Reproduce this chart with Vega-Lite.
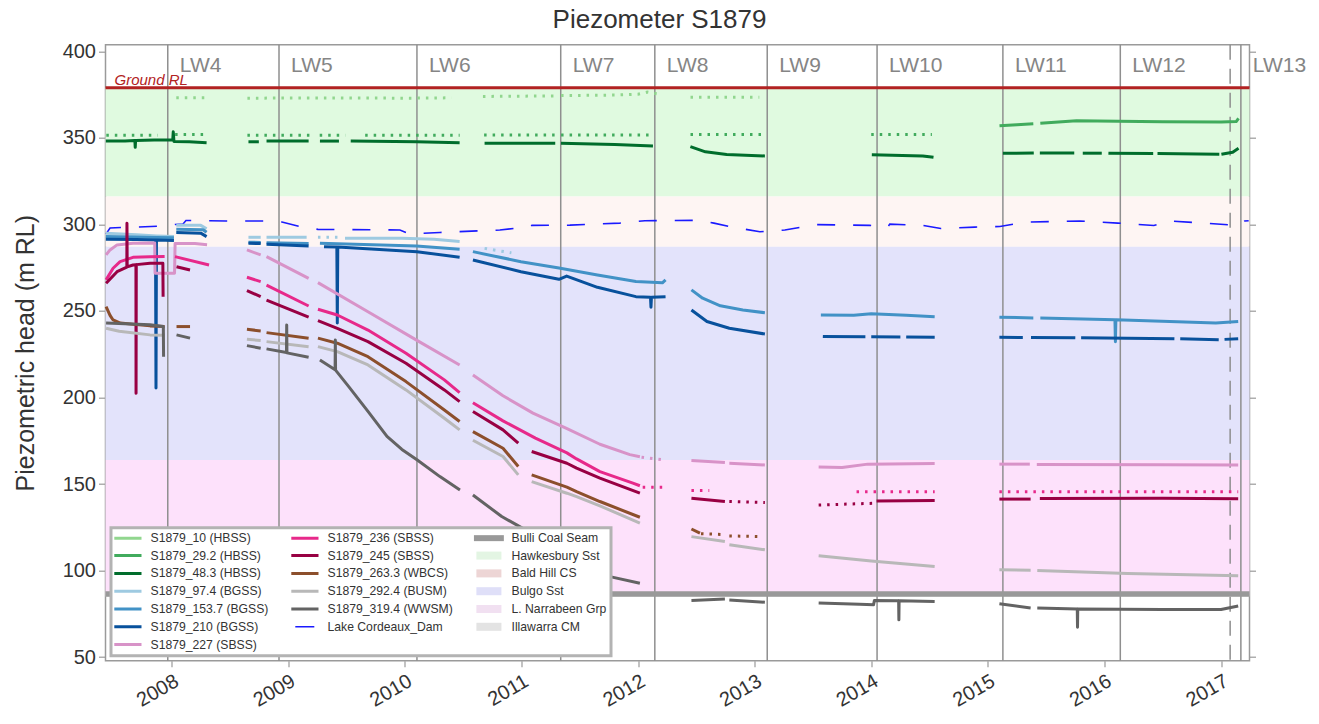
{
"$schema": "https://vega.github.io/schema/vega-lite/v6.json",
"width": 1144,
"height": 616,
"autosize": {"type": "none"},
"padding": {"left": 105.5, "top": 44.7, "right": 69.5, "bottom": 63.3},
"background": "white",
"title": {"text": "Piezometer S1879", "fontSize": 26, "font": "Liberation Sans", "fontWeight": "normal", "color": "#333333", "anchor": "middle", "dx": -18, "offset": 8},
"datasets": {
"bands": [
{"band": "Hawkesbury Sst", "top": 379, "bottom": 316.1},
{"band": "Bald Hill CS", "top": 316.1, "bottom": 287.2},
{"band": "Bulgo Sst", "top": 287.2, "bottom": 163.9},
{"band": "L. Narrabeen Grp", "top": 163.9, "bottom": 86.4},
{"band": "Illawarra CM", "top": 86.4, "bottom": 85.0}
],
"panels": [
{"panel": "LW4", "start": 2007.967},
{"panel": "LW5", "start": 2008.921},
{"panel": "LW6", "start": 2010.104},
{"panel": "LW7", "start": 2011.337},
{"panel": "LW8", "start": 2012.144},
{"panel": "LW9", "start": 2013.108},
{"panel": "LW10", "start": 2014.05},
{"panel": "LW11", "start": 2015.129},
{"panel": "LW12", "start": 2016.136},
{"panel": "LW13", "start": 2017.17}
],
"marker": [{"year": 2017.078}],
"ground": [{"label": "Ground RL", "head": 379}],
"seam": [{"name": "Bulli Coal Seam", "head": 86.4}],
"lake": [
{"year": 2007.438, "head": 294.6}, {"year": 2007.472, "head": 298.0}, {"year": 2007.901, "head": 299.0}, {"year": 2008.029, "head": 300.0},
{"year": 2008.098, "head": 300.3}, {"year": 2008.123, "head": 302.3}, {"year": 2008.466, "head": 302.0}, {"year": 2008.801, "head": 302.0},
{"year": 2008.946, "head": 301.4}, {"year": 2009.101, "head": 298.8}, {"year": 2009.255, "head": 297.2}, {"year": 2009.958, "head": 296.8},
{"year": 2010.044, "head": 294.5}, {"year": 2010.301, "head": 295.4}, {"year": 2010.815, "head": 296.8}, {"year": 2011.073, "head": 298.7},
{"year": 2011.09, "head": 299.5}, {"year": 2011.416, "head": 299.6}, {"year": 2011.844, "head": 300.8}, {"year": 2012.059, "head": 302.2},
{"year": 2012.531, "head": 302.4}, {"year": 2012.651, "head": 300.8}, {"year": 2012.805, "head": 298.5}, {"year": 2013.045, "head": 295.8},
{"year": 2013.259, "head": 296.8}, {"year": 2013.525, "head": 299.9}, {"year": 2013.988, "head": 299.5}, {"year": 2014.142, "head": 298.5},
{"year": 2014.159, "head": 300.2}, {"year": 2014.442, "head": 299.5}, {"year": 2014.597, "head": 297.7}, {"year": 2014.889, "head": 298.5},
{"year": 2015.103, "head": 298.8}, {"year": 2015.326, "head": 301.4}, {"year": 2015.789, "head": 302.0}, {"year": 2016.115, "head": 300.8},
{"year": 2016.424, "head": 299.4}, {"year": 2016.553, "head": 302.0}, {"year": 2016.86, "head": 300.8}, {"year": 2017.16, "head": 299.4},
{"year": 2017.203, "head": 302.0}, {"year": 2017.237, "head": 302.2}
],
"piezo": [
{"series": "S1879_10 (HBSS)", "seg": 1, "reading": "intermittent", "year": 2008.04, "head": 373.3},
{"series": "S1879_10 (HBSS)", "seg": 1, "reading": "intermittent", "year": 2008.30, "head": 373.3},
{"series": "S1879_10 (HBSS)", "seg": 2, "reading": "intermittent", "year": 2008.65, "head": 373.0},
{"series": "S1879_10 (HBSS)", "seg": 2, "reading": "intermittent", "year": 2009.30, "head": 373.1},
{"series": "S1879_10 (HBSS)", "seg": 2, "reading": "intermittent", "year": 2010.05, "head": 373.0},
{"series": "S1879_10 (HBSS)", "seg": 2, "reading": "intermittent", "year": 2010.40, "head": 373.2},
{"series": "S1879_10 (HBSS)", "seg": 3, "reading": "intermittent", "year": 2010.67, "head": 374.0},
{"series": "S1879_10 (HBSS)", "seg": 3, "reading": "intermittent", "year": 2011.29, "head": 374.3},
{"series": "S1879_10 (HBSS)", "seg": 4, "reading": "intermittent", "year": 2011.34, "head": 374.5},
{"series": "S1879_10 (HBSS)", "seg": 4, "reading": "intermittent", "year": 2011.80, "head": 374.8},
{"series": "S1879_10 (HBSS)", "seg": 4, "reading": "intermittent", "year": 2012.00, "head": 375.3},
{"series": "S1879_10 (HBSS)", "seg": 4, "reading": "intermittent", "year": 2012.08, "head": 376.5},
{"series": "S1879_10 (HBSS)", "seg": 4, "reading": "intermittent", "year": 2012.12, "head": 376.0},
{"series": "S1879_10 (HBSS)", "seg": 4, "reading": "intermittent", "year": 2012.21, "head": 375.0},
{"series": "S1879_10 (HBSS)", "seg": 5, "reading": "intermittent", "year": 2012.45, "head": 373.5},
{"series": "S1879_10 (HBSS)", "seg": 5, "reading": "intermittent", "year": 2013.04, "head": 373.5},

{"series": "S1879_29.2 (HBSS)", "seg": 1, "reading": "intermittent", "year": 2007.44, "head": 351.5},
{"series": "S1879_29.2 (HBSS)", "seg": 1, "reading": "intermittent", "year": 2007.88, "head": 351.5},
{"series": "S1879_29.2 (HBSS)", "seg": 2, "reading": "intermittent", "year": 2008.03, "head": 352.0},
{"series": "S1879_29.2 (HBSS)", "seg": 2, "reading": "intermittent", "year": 2008.30, "head": 352.0},
{"series": "S1879_29.2 (HBSS)", "seg": 3, "reading": "intermittent", "year": 2008.65, "head": 351.5},
{"series": "S1879_29.2 (HBSS)", "seg": 3, "reading": "intermittent", "year": 2009.19, "head": 351.5},
{"series": "S1879_29.2 (HBSS)", "seg": 4, "reading": "intermittent", "year": 2009.27, "head": 351.5},
{"series": "S1879_29.2 (HBSS)", "seg": 4, "reading": "intermittent", "year": 2009.49, "head": 351.5},
{"series": "S1879_29.2 (HBSS)", "seg": 5, "reading": "intermittent", "year": 2009.66, "head": 351.5},
{"series": "S1879_29.2 (HBSS)", "seg": 5, "reading": "intermittent", "year": 2010.47, "head": 351.5},
{"series": "S1879_29.2 (HBSS)", "seg": 6, "reading": "intermittent", "year": 2010.68, "head": 351.7},
{"series": "S1879_29.2 (HBSS)", "seg": 6, "reading": "intermittent", "year": 2011.29, "head": 351.7},
{"series": "S1879_29.2 (HBSS)", "seg": 7, "reading": "intermittent", "year": 2011.34, "head": 351.7},
{"series": "S1879_29.2 (HBSS)", "seg": 7, "reading": "intermittent", "year": 2012.13, "head": 351.7},
{"series": "S1879_29.2 (HBSS)", "seg": 8, "reading": "intermittent", "year": 2012.45, "head": 352.0},
{"series": "S1879_29.2 (HBSS)", "seg": 8, "reading": "intermittent", "year": 2013.07, "head": 352.0},
{"series": "S1879_29.2 (HBSS)", "seg": 9, "reading": "intermittent", "year": 2014.00, "head": 352.0},
{"series": "S1879_29.2 (HBSS)", "seg": 9, "reading": "intermittent", "year": 2014.52, "head": 352.0},
{"series": "S1879_29.2 (HBSS)", "seg": 10, "reading": "continuous", "year": 2015.10, "head": 357.0},
{"series": "S1879_29.2 (HBSS)", "seg": 10, "reading": "continuous", "year": 2015.25, "head": 357.7},
{"series": "S1879_29.2 (HBSS)", "seg": 10, "reading": "continuous", "year": 2015.39, "head": 358.2},
{"series": "S1879_29.2 (HBSS)", "seg": 11, "reading": "continuous", "year": 2015.45, "head": 358.5},
{"series": "S1879_29.2 (HBSS)", "seg": 11, "reading": "continuous", "year": 2015.76, "head": 360.0},
{"series": "S1879_29.2 (HBSS)", "seg": 11, "reading": "continuous", "year": 2016.12, "head": 359.6},
{"series": "S1879_29.2 (HBSS)", "seg": 11, "reading": "continuous", "year": 2016.50, "head": 359.4},
{"series": "S1879_29.2 (HBSS)", "seg": 11, "reading": "continuous", "year": 2017.00, "head": 359.2},
{"series": "S1879_29.2 (HBSS)", "seg": 11, "reading": "continuous", "year": 2017.13, "head": 359.5},
{"series": "S1879_29.2 (HBSS)", "seg": 11, "reading": "continuous", "year": 2017.15, "head": 361.3},

{"series": "S1879_48.3 (HBSS)", "seg": 1, "reading": "continuous", "year": 2007.436, "head": 348.2},
{"series": "S1879_48.3 (HBSS)", "seg": 1, "reading": "continuous", "year": 2007.60, "head": 348.2},
{"series": "S1879_48.3 (HBSS)", "seg": 1, "reading": "continuous", "year": 2007.685, "head": 348.5},
{"series": "S1879_48.3 (HBSS)", "seg": 1, "reading": "continuous", "year": 2007.688, "head": 344.6},
{"series": "S1879_48.3 (HBSS)", "seg": 1, "reading": "continuous", "year": 2007.691, "head": 348.5},
{"series": "S1879_48.3 (HBSS)", "seg": 1, "reading": "continuous", "year": 2007.85, "head": 348.8},
{"series": "S1879_48.3 (HBSS)", "seg": 1, "reading": "continuous", "year": 2008.010, "head": 349.0},
{"series": "S1879_48.3 (HBSS)", "seg": 1, "reading": "continuous", "year": 2008.014, "head": 353.6},
{"series": "S1879_48.3 (HBSS)", "seg": 1, "reading": "continuous", "year": 2008.020, "head": 348.0},
{"series": "S1879_48.3 (HBSS)", "seg": 1, "reading": "continuous", "year": 2008.15, "head": 347.8},
{"series": "S1879_48.3 (HBSS)", "seg": 1, "reading": "continuous", "year": 2008.30, "head": 347.3},
{"series": "S1879_48.3 (HBSS)", "seg": 2, "reading": "continuous", "year": 2008.659, "head": 347.8},
{"series": "S1879_48.3 (HBSS)", "seg": 2, "reading": "continuous", "year": 2008.748, "head": 347.8},
{"series": "S1879_48.3 (HBSS)", "seg": 3, "reading": "continuous", "year": 2008.814, "head": 348.2},
{"series": "S1879_48.3 (HBSS)", "seg": 3, "reading": "continuous", "year": 2009.175, "head": 348.2},
{"series": "S1879_48.3 (HBSS)", "seg": 4, "reading": "continuous", "year": 2009.272, "head": 348.2},
{"series": "S1879_48.3 (HBSS)", "seg": 4, "reading": "continuous", "year": 2009.435, "head": 348.2},
{"series": "S1879_48.3 (HBSS)", "seg": 5, "reading": "continuous", "year": 2009.536, "head": 348.2},
{"series": "S1879_48.3 (HBSS)", "seg": 5, "reading": "continuous", "year": 2010.10, "head": 347.8},
{"series": "S1879_48.3 (HBSS)", "seg": 5, "reading": "continuous", "year": 2010.47, "head": 347.3},
{"series": "S1879_48.3 (HBSS)", "seg": 6, "reading": "continuous", "year": 2010.684, "head": 346.9},
{"series": "S1879_48.3 (HBSS)", "seg": 6, "reading": "continuous", "year": 2011.29, "head": 346.9},
{"series": "S1879_48.3 (HBSS)", "seg": 7, "reading": "continuous", "year": 2011.339, "head": 346.9},
{"series": "S1879_48.3 (HBSS)", "seg": 7, "reading": "continuous", "year": 2011.80, "head": 346.2},
{"series": "S1879_48.3 (HBSS)", "seg": 7, "reading": "continuous", "year": 2012.128, "head": 345.3},
{"series": "S1879_48.3 (HBSS)", "seg": 8, "reading": "continuous", "year": 2012.449, "head": 345.0},
{"series": "S1879_48.3 (HBSS)", "seg": 8, "reading": "continuous", "year": 2012.578, "head": 342.0},
{"series": "S1879_48.3 (HBSS)", "seg": 8, "reading": "continuous", "year": 2012.760, "head": 340.5},
{"series": "S1879_48.3 (HBSS)", "seg": 8, "reading": "continuous", "year": 2013.088, "head": 339.6},
{"series": "S1879_48.3 (HBSS)", "seg": 9, "reading": "continuous", "year": 2014.005, "head": 340.3},
{"series": "S1879_48.3 (HBSS)", "seg": 9, "reading": "continuous", "year": 2014.442, "head": 339.6},
{"series": "S1879_48.3 (HBSS)", "seg": 9, "reading": "continuous", "year": 2014.534, "head": 338.8},
{"series": "S1879_48.3 (HBSS)", "seg": 10, "reading": "continuous", "year": 2015.129, "head": 341.1},
{"series": "S1879_48.3 (HBSS)", "seg": 10, "reading": "continuous", "year": 2015.394, "head": 341.3},
{"series": "S1879_48.3 (HBSS)", "seg": 11, "reading": "continuous", "year": 2015.446, "head": 341.3},
{"series": "S1879_48.3 (HBSS)", "seg": 11, "reading": "continuous", "year": 2015.741, "head": 341.3},
{"series": "S1879_48.3 (HBSS)", "seg": 12, "reading": "continuous", "year": 2015.814, "head": 341.2},
{"series": "S1879_48.3 (HBSS)", "seg": 12, "reading": "continuous", "year": 2015.977, "head": 341.2},
{"series": "S1879_48.3 (HBSS)", "seg": 13, "reading": "continuous", "year": 2016.034, "head": 341.1},
{"series": "S1879_48.3 (HBSS)", "seg": 13, "reading": "continuous", "year": 2016.418, "head": 341.0},
{"series": "S1879_48.3 (HBSS)", "seg": 14, "reading": "continuous", "year": 2016.455, "head": 341.0},
{"series": "S1879_48.3 (HBSS)", "seg": 14, "reading": "continuous", "year": 2016.985, "head": 340.6},
{"series": "S1879_48.3 (HBSS)", "seg": 15, "reading": "continuous", "year": 2017.003, "head": 340.6},
{"series": "S1879_48.3 (HBSS)", "seg": 15, "reading": "continuous", "year": 2017.10, "head": 341.8},
{"series": "S1879_48.3 (HBSS)", "seg": 15, "reading": "continuous", "year": 2017.15, "head": 344.0},

{"series": "S1879_97.4 (BGSS)", "seg": 1, "reading": "continuous", "year": 2007.436, "head": 295.0},
{"series": "S1879_97.4 (BGSS)", "seg": 1, "reading": "continuous", "year": 2007.70, "head": 294.0},
{"series": "S1879_97.4 (BGSS)", "seg": 1, "reading": "continuous", "year": 2007.87, "head": 293.4},
{"series": "S1879_97.4 (BGSS)", "seg": 1, "reading": "continuous", "year": 2008.02, "head": 293.0},
{"series": "S1879_97.4 (BGSS)", "seg": 2, "reading": "continuous", "year": 2008.04, "head": 299.5},
{"series": "S1879_97.4 (BGSS)", "seg": 2, "reading": "continuous", "year": 2008.25, "head": 299.5},
{"series": "S1879_97.4 (BGSS)", "seg": 2, "reading": "continuous", "year": 2008.30, "head": 297.5},
{"series": "S1879_97.4 (BGSS)", "seg": 3, "reading": "continuous", "year": 2008.659, "head": 292.6},
{"series": "S1879_97.4 (BGSS)", "seg": 3, "reading": "continuous", "year": 2008.764, "head": 292.6},
{"series": "S1879_97.4 (BGSS)", "seg": 4, "reading": "continuous", "year": 2008.814, "head": 292.6},
{"series": "S1879_97.4 (BGSS)", "seg": 4, "reading": "continuous", "year": 2009.158, "head": 292.6},
{"series": "S1879_97.4 (BGSS)", "seg": 5, "reading": "intermittent", "year": 2009.255, "head": 292.6},
{"series": "S1879_97.4 (BGSS)", "seg": 5, "reading": "intermittent", "year": 2009.452, "head": 292.6},
{"series": "S1879_97.4 (BGSS)", "seg": 6, "reading": "continuous", "year": 2009.487, "head": 292.0},
{"series": "S1879_97.4 (BGSS)", "seg": 6, "reading": "continuous", "year": 2009.975, "head": 292.0},
{"series": "S1879_97.4 (BGSS)", "seg": 6, "reading": "continuous", "year": 2010.25, "head": 291.4},
{"series": "S1879_97.4 (BGSS)", "seg": 6, "reading": "continuous", "year": 2010.47, "head": 290.2},
{"series": "S1879_97.4 (BGSS)", "seg": 7, "reading": "intermittent", "year": 2010.684, "head": 286.2},
{"series": "S1879_97.4 (BGSS)", "seg": 7, "reading": "intermittent", "year": 2010.914, "head": 283.6},

{"series": "S1879_153.7 (BGSS)", "seg": 1, "reading": "continuous", "year": 2007.436, "head": 293.0},
{"series": "S1879_153.7 (BGSS)", "seg": 1, "reading": "continuous", "year": 2007.87, "head": 292.5},
{"series": "S1879_153.7 (BGSS)", "seg": 1, "reading": "continuous", "year": 2008.02, "head": 292.3},
{"series": "S1879_153.7 (BGSS)", "seg": 2, "reading": "continuous", "year": 2008.04, "head": 297.3},
{"series": "S1879_153.7 (BGSS)", "seg": 2, "reading": "continuous", "year": 2008.27, "head": 297.0},
{"series": "S1879_153.7 (BGSS)", "seg": 2, "reading": "continuous", "year": 2008.30, "head": 295.5},
{"series": "S1879_153.7 (BGSS)", "seg": 3, "reading": "continuous", "year": 2008.659, "head": 289.8},
{"series": "S1879_153.7 (BGSS)", "seg": 3, "reading": "continuous", "year": 2008.764, "head": 289.6},
{"series": "S1879_153.7 (BGSS)", "seg": 4, "reading": "continuous", "year": 2008.814, "head": 289.5},
{"series": "S1879_153.7 (BGSS)", "seg": 4, "reading": "continuous", "year": 2009.175, "head": 289.0},
{"series": "S1879_153.7 (BGSS)", "seg": 5, "reading": "continuous", "year": 2009.272, "head": 289.2},
{"series": "S1879_153.7 (BGSS)", "seg": 5, "reading": "continuous", "year": 2010.10, "head": 287.6},
{"series": "S1879_153.7 (BGSS)", "seg": 5, "reading": "continuous", "year": 2010.47, "head": 285.7},
{"series": "S1879_153.7 (BGSS)", "seg": 6, "reading": "continuous", "year": 2010.584, "head": 284.3},
{"series": "S1879_153.7 (BGSS)", "seg": 6, "reading": "continuous", "year": 2010.996, "head": 278.5},
{"series": "S1879_153.7 (BGSS)", "seg": 6, "reading": "continuous", "year": 2011.322, "head": 274.9},
{"series": "S1879_153.7 (BGSS)", "seg": 6, "reading": "continuous", "year": 2011.652, "head": 270.8},
{"series": "S1879_153.7 (BGSS)", "seg": 6, "reading": "continuous", "year": 2011.982, "head": 267.0},
{"series": "S1879_153.7 (BGSS)", "seg": 6, "reading": "continuous", "year": 2012.209, "head": 266.3},
{"series": "S1879_153.7 (BGSS)", "seg": 6, "reading": "continuous", "year": 2012.236, "head": 268.0},
{"series": "S1879_153.7 (BGSS)", "seg": 7, "reading": "continuous", "year": 2012.458, "head": 262.2},
{"series": "S1879_153.7 (BGSS)", "seg": 7, "reading": "continuous", "year": 2012.554, "head": 257.4},
{"series": "S1879_153.7 (BGSS)", "seg": 7, "reading": "continuous", "year": 2012.706, "head": 253.0},
{"series": "S1879_153.7 (BGSS)", "seg": 7, "reading": "continuous", "year": 2012.899, "head": 250.6},
{"series": "S1879_153.7 (BGSS)", "seg": 7, "reading": "continuous", "year": 2013.088, "head": 249.0},
{"series": "S1879_153.7 (BGSS)", "seg": 8, "reading": "continuous", "year": 2013.568, "head": 247.7},
{"series": "S1879_153.7 (BGSS)", "seg": 8, "reading": "continuous", "year": 2013.85, "head": 247.5},
{"series": "S1879_153.7 (BGSS)", "seg": 8, "reading": "continuous", "year": 2014.00, "head": 248.4},
{"series": "S1879_153.7 (BGSS)", "seg": 8, "reading": "continuous", "year": 2014.30, "head": 247.6},
{"series": "S1879_153.7 (BGSS)", "seg": 8, "reading": "continuous", "year": 2014.544, "head": 246.7},
{"series": "S1879_153.7 (BGSS)", "seg": 9, "reading": "continuous", "year": 2015.099, "head": 246.4},
{"series": "S1879_153.7 (BGSS)", "seg": 9, "reading": "continuous", "year": 2015.39, "head": 246.0},
{"series": "S1879_153.7 (BGSS)", "seg": 10, "reading": "continuous", "year": 2015.45, "head": 245.9},
{"series": "S1879_153.7 (BGSS)", "seg": 10, "reading": "continuous", "year": 2016.090, "head": 244.9},
{"series": "S1879_153.7 (BGSS)", "seg": 10, "reading": "continuous", "year": 2016.094, "head": 232.3},
{"series": "S1879_153.7 (BGSS)", "seg": 10, "reading": "continuous", "year": 2016.098, "head": 244.9},
{"series": "S1879_153.7 (BGSS)", "seg": 10, "reading": "continuous", "year": 2016.955, "head": 243.0},
{"series": "S1879_153.7 (BGSS)", "seg": 10, "reading": "continuous", "year": 2017.147, "head": 243.9},

{"series": "S1879_210 (BGSS)", "seg": 1, "reading": "continuous", "year": 2007.436, "head": 291.5},
{"series": "S1879_210 (BGSS)", "seg": 1, "reading": "continuous", "year": 2007.70, "head": 291.3},
{"series": "S1879_210 (BGSS)", "seg": 1, "reading": "continuous", "year": 2007.862, "head": 291.0},
{"series": "S1879_210 (BGSS)", "seg": 1, "reading": "continuous", "year": 2007.866, "head": 205.5},
{"series": "S1879_210 (BGSS)", "seg": 1, "reading": "continuous", "year": 2007.870, "head": 291.0},
{"series": "S1879_210 (BGSS)", "seg": 1, "reading": "continuous", "year": 2008.02, "head": 290.8},
{"series": "S1879_210 (BGSS)", "seg": 2, "reading": "continuous", "year": 2008.04, "head": 295.3},
{"series": "S1879_210 (BGSS)", "seg": 2, "reading": "continuous", "year": 2008.25, "head": 295.0},
{"series": "S1879_210 (BGSS)", "seg": 2, "reading": "continuous", "year": 2008.30, "head": 293.0},
{"series": "S1879_210 (BGSS)", "seg": 3, "reading": "continuous", "year": 2008.659, "head": 289.1},
{"series": "S1879_210 (BGSS)", "seg": 3, "reading": "continuous", "year": 2008.764, "head": 289.0},
{"series": "S1879_210 (BGSS)", "seg": 4, "reading": "continuous", "year": 2008.814, "head": 288.6},
{"series": "S1879_210 (BGSS)", "seg": 4, "reading": "continuous", "year": 2009.175, "head": 287.6},
{"series": "S1879_210 (BGSS)", "seg": 5, "reading": "continuous", "year": 2009.307, "head": 287.2},
{"series": "S1879_210 (BGSS)", "seg": 5, "reading": "continuous", "year": 2009.417, "head": 287.0},
{"series": "S1879_210 (BGSS)", "seg": 5, "reading": "continuous", "year": 2009.421, "head": 243.0},
{"series": "S1879_210 (BGSS)", "seg": 5, "reading": "continuous", "year": 2009.425, "head": 287.0},
{"series": "S1879_210 (BGSS)", "seg": 5, "reading": "continuous", "year": 2010.104, "head": 284.3},
{"series": "S1879_210 (BGSS)", "seg": 5, "reading": "continuous", "year": 2010.47, "head": 281.0},
{"series": "S1879_210 (BGSS)", "seg": 6, "reading": "continuous", "year": 2010.584, "head": 279.5},
{"series": "S1879_210 (BGSS)", "seg": 6, "reading": "continuous", "year": 2010.996, "head": 272.7},
{"series": "S1879_210 (BGSS)", "seg": 6, "reading": "continuous", "year": 2011.322, "head": 268.3},
{"series": "S1879_210 (BGSS)", "seg": 6, "reading": "continuous", "year": 2011.388, "head": 270.2},
{"series": "S1879_210 (BGSS)", "seg": 6, "reading": "continuous", "year": 2011.652, "head": 263.7},
{"series": "S1879_210 (BGSS)", "seg": 6, "reading": "continuous", "year": 2011.982, "head": 258.3},
{"series": "S1879_210 (BGSS)", "seg": 6, "reading": "continuous", "year": 2012.107, "head": 258.0},
{"series": "S1879_210 (BGSS)", "seg": 6, "reading": "continuous", "year": 2012.111, "head": 252.2},
{"series": "S1879_210 (BGSS)", "seg": 6, "reading": "continuous", "year": 2012.115, "head": 258.0},
{"series": "S1879_210 (BGSS)", "seg": 6, "reading": "continuous", "year": 2012.236, "head": 258.3},
{"series": "S1879_210 (BGSS)", "seg": 7, "reading": "continuous", "year": 2012.458, "head": 250.6},
{"series": "S1879_210 (BGSS)", "seg": 7, "reading": "continuous", "year": 2012.591, "head": 243.9},
{"series": "S1879_210 (BGSS)", "seg": 7, "reading": "continuous", "year": 2012.783, "head": 240.0},
{"series": "S1879_210 (BGSS)", "seg": 7, "reading": "continuous", "year": 2013.088, "head": 236.7},
{"series": "S1879_210 (BGSS)", "seg": 8, "reading": "continuous", "year": 2013.585, "head": 235.2},
{"series": "S1879_210 (BGSS)", "seg": 8, "reading": "continuous", "year": 2013.95, "head": 235.1},
{"series": "S1879_210 (BGSS)", "seg": 9, "reading": "continuous", "year": 2014.00, "head": 235.1},
{"series": "S1879_210 (BGSS)", "seg": 9, "reading": "continuous", "year": 2014.25, "head": 235.0},
{"series": "S1879_210 (BGSS)", "seg": 10, "reading": "continuous", "year": 2014.30, "head": 235.0},
{"series": "S1879_210 (BGSS)", "seg": 10, "reading": "continuous", "year": 2014.544, "head": 234.9},
{"series": "S1879_210 (BGSS)", "seg": 11, "reading": "continuous", "year": 2015.099, "head": 234.8},
{"series": "S1879_210 (BGSS)", "seg": 11, "reading": "continuous", "year": 2015.30, "head": 234.7},
{"series": "S1879_210 (BGSS)", "seg": 12, "reading": "continuous", "year": 2015.37, "head": 234.7},
{"series": "S1879_210 (BGSS)", "seg": 12, "reading": "continuous", "year": 2015.75, "head": 234.5},
{"series": "S1879_210 (BGSS)", "seg": 13, "reading": "continuous", "year": 2015.80, "head": 234.5},
{"series": "S1879_210 (BGSS)", "seg": 13, "reading": "continuous", "year": 2016.60, "head": 234.0},
{"series": "S1879_210 (BGSS)", "seg": 14, "reading": "continuous", "year": 2016.65, "head": 234.0},
{"series": "S1879_210 (BGSS)", "seg": 14, "reading": "continuous", "year": 2016.98, "head": 233.4},
{"series": "S1879_210 (BGSS)", "seg": 15, "reading": "continuous", "year": 2017.03, "head": 233.6},
{"series": "S1879_210 (BGSS)", "seg": 15, "reading": "continuous", "year": 2017.147, "head": 234.0},

{"series": "S1879_227 (SBSS)", "seg": 1, "reading": "continuous", "year": 2007.438, "head": 282.4},
{"series": "S1879_227 (SBSS)", "seg": 1, "reading": "continuous", "year": 2007.472, "head": 285.3},
{"series": "S1879_227 (SBSS)", "seg": 1, "reading": "continuous", "year": 2007.532, "head": 288.2},
{"series": "S1879_227 (SBSS)", "seg": 1, "reading": "continuous", "year": 2007.669, "head": 289.1},
{"series": "S1879_227 (SBSS)", "seg": 1, "reading": "continuous", "year": 2007.855, "head": 289.3},
{"series": "S1879_227 (SBSS)", "seg": 1, "reading": "continuous", "year": 2007.858, "head": 271.8},
{"series": "S1879_227 (SBSS)", "seg": 1, "reading": "continuous", "year": 2008.025, "head": 271.8},
{"series": "S1879_227 (SBSS)", "seg": 1, "reading": "continuous", "year": 2008.030, "head": 289.0},
{"series": "S1879_227 (SBSS)", "seg": 1, "reading": "continuous", "year": 2008.20, "head": 289.0},
{"series": "S1879_227 (SBSS)", "seg": 1, "reading": "continuous", "year": 2008.304, "head": 288.3},
{"series": "S1879_227 (SBSS)", "seg": 2, "reading": "continuous", "year": 2008.646, "head": 285.3},
{"series": "S1879_227 (SBSS)", "seg": 2, "reading": "continuous", "year": 2008.764, "head": 282.4},
{"series": "S1879_227 (SBSS)", "seg": 3, "reading": "continuous", "year": 2008.814, "head": 281.4},
{"series": "S1879_227 (SBSS)", "seg": 3, "reading": "continuous", "year": 2009.175, "head": 268.9},
{"series": "S1879_227 (SBSS)", "seg": 4, "reading": "continuous", "year": 2009.255, "head": 266.4},
{"series": "S1879_227 (SBSS)", "seg": 4, "reading": "continuous", "year": 2009.684, "head": 249.6},
{"series": "S1879_227 (SBSS)", "seg": 4, "reading": "continuous", "year": 2010.104, "head": 233.0},
{"series": "S1879_227 (SBSS)", "seg": 4, "reading": "continuous", "year": 2010.47, "head": 218.8},
{"series": "S1879_227 (SBSS)", "seg": 5, "reading": "continuous", "year": 2010.584, "head": 213.0},
{"series": "S1879_227 (SBSS)", "seg": 5, "reading": "continuous", "year": 2010.842, "head": 201.0},
{"series": "S1879_227 (SBSS)", "seg": 5, "reading": "continuous", "year": 2011.099, "head": 191.0},
{"series": "S1879_227 (SBSS)", "seg": 5, "reading": "continuous", "year": 2011.391, "head": 182.0},
{"series": "S1879_227 (SBSS)", "seg": 5, "reading": "continuous", "year": 2011.673, "head": 173.0},
{"series": "S1879_227 (SBSS)", "seg": 5, "reading": "continuous", "year": 2011.930, "head": 167.0},
{"series": "S1879_227 (SBSS)", "seg": 5, "reading": "continuous", "year": 2012.016, "head": 165.8},
{"series": "S1879_227 (SBSS)", "seg": 6, "reading": "intermittent", "year": 2012.03, "head": 165.5},
{"series": "S1879_227 (SBSS)", "seg": 6, "reading": "intermittent", "year": 2012.21, "head": 164.0},
{"series": "S1879_227 (SBSS)", "seg": 7, "reading": "continuous", "year": 2012.458, "head": 163.6},
{"series": "S1879_227 (SBSS)", "seg": 7, "reading": "continuous", "year": 2012.745, "head": 162.4},
{"series": "S1879_227 (SBSS)", "seg": 8, "reading": "continuous", "year": 2012.783, "head": 162.0},
{"series": "S1879_227 (SBSS)", "seg": 8, "reading": "continuous", "year": 2013.088, "head": 161.0},
{"series": "S1879_227 (SBSS)", "seg": 9, "reading": "continuous", "year": 2013.549, "head": 159.8},
{"series": "S1879_227 (SBSS)", "seg": 9, "reading": "continuous", "year": 2013.75, "head": 159.5},
{"series": "S1879_227 (SBSS)", "seg": 9, "reading": "continuous", "year": 2013.97, "head": 161.5},
{"series": "S1879_227 (SBSS)", "seg": 9, "reading": "continuous", "year": 2014.544, "head": 161.8},
{"series": "S1879_227 (SBSS)", "seg": 10, "reading": "continuous", "year": 2015.099, "head": 161.5},
{"series": "S1879_227 (SBSS)", "seg": 10, "reading": "continuous", "year": 2015.36, "head": 161.5},
{"series": "S1879_227 (SBSS)", "seg": 11, "reading": "continuous", "year": 2015.42, "head": 161.3},
{"series": "S1879_227 (SBSS)", "seg": 11, "reading": "continuous", "year": 2016.50, "head": 161.2},
{"series": "S1879_227 (SBSS)", "seg": 11, "reading": "continuous", "year": 2017.147, "head": 161.0},

{"series": "S1879_236 (SBSS)", "seg": 1, "reading": "continuous", "year": 2007.438, "head": 268.0},
{"series": "S1879_236 (SBSS)", "seg": 1, "reading": "continuous", "year": 2007.498, "head": 274.7},
{"series": "S1879_236 (SBSS)", "seg": 1, "reading": "continuous", "year": 2007.558, "head": 278.5},
{"series": "S1879_236 (SBSS)", "seg": 1, "reading": "continuous", "year": 2007.669, "head": 281.0},
{"series": "S1879_236 (SBSS)", "seg": 1, "reading": "continuous", "year": 2007.815, "head": 281.4},
{"series": "S1879_236 (SBSS)", "seg": 1, "reading": "continuous", "year": 2007.94, "head": 281.5},
{"series": "S1879_236 (SBSS)", "seg": 2, "reading": "continuous", "year": 2008.029, "head": 281.4},
{"series": "S1879_236 (SBSS)", "seg": 2, "reading": "continuous", "year": 2008.321, "head": 276.6},
{"series": "S1879_236 (SBSS)", "seg": 3, "reading": "continuous", "year": 2008.646, "head": 269.5},
{"series": "S1879_236 (SBSS)", "seg": 3, "reading": "continuous", "year": 2008.764, "head": 267.0},
{"series": "S1879_236 (SBSS)", "seg": 4, "reading": "continuous", "year": 2008.814, "head": 265.0},
{"series": "S1879_236 (SBSS)", "seg": 4, "reading": "continuous", "year": 2009.175, "head": 252.9},
{"series": "S1879_236 (SBSS)", "seg": 5, "reading": "continuous", "year": 2009.255, "head": 251.0},
{"series": "S1879_236 (SBSS)", "seg": 5, "reading": "continuous", "year": 2009.421, "head": 247.7},
{"series": "S1879_236 (SBSS)", "seg": 5, "reading": "continuous", "year": 2009.684, "head": 239.0},
{"series": "S1879_236 (SBSS)", "seg": 5, "reading": "continuous", "year": 2010.010, "head": 225.6},
{"series": "S1879_236 (SBSS)", "seg": 5, "reading": "continuous", "year": 2010.339, "head": 210.2},
{"series": "S1879_236 (SBSS)", "seg": 5, "reading": "continuous", "year": 2010.470, "head": 202.8},
{"series": "S1879_236 (SBSS)", "seg": 6, "reading": "continuous", "year": 2010.584, "head": 197.0},
{"series": "S1879_236 (SBSS)", "seg": 6, "reading": "continuous", "year": 2010.842, "head": 186.5},
{"series": "S1879_236 (SBSS)", "seg": 6, "reading": "continuous", "year": 2011.120, "head": 176.5},
{"series": "S1879_236 (SBSS)", "seg": 6, "reading": "continuous", "year": 2011.390, "head": 168.0},
{"series": "S1879_236 (SBSS)", "seg": 6, "reading": "continuous", "year": 2011.473, "head": 164.5},
{"series": "S1879_236 (SBSS)", "seg": 6, "reading": "continuous", "year": 2011.673, "head": 157.2},
{"series": "S1879_236 (SBSS)", "seg": 6, "reading": "continuous", "year": 2011.956, "head": 150.5},
{"series": "S1879_236 (SBSS)", "seg": 6, "reading": "continuous", "year": 2012.016, "head": 149.0},
{"series": "S1879_236 (SBSS)", "seg": 7, "reading": "intermittent", "year": 2012.04, "head": 148.2},
{"series": "S1879_236 (SBSS)", "seg": 7, "reading": "intermittent", "year": 2012.21, "head": 148.2},
{"series": "S1879_236 (SBSS)", "seg": 8, "reading": "intermittent", "year": 2012.458, "head": 146.2},
{"series": "S1879_236 (SBSS)", "seg": 8, "reading": "intermittent", "year": 2012.611, "head": 146.2},
{"series": "S1879_236 (SBSS)", "seg": 9, "reading": "intermittent", "year": 2013.874, "head": 145.6},
{"series": "S1879_236 (SBSS)", "seg": 9, "reading": "intermittent", "year": 2014.544, "head": 145.6},
{"series": "S1879_236 (SBSS)", "seg": 10, "reading": "intermittent", "year": 2015.099, "head": 145.6},
{"series": "S1879_236 (SBSS)", "seg": 10, "reading": "intermittent", "year": 2017.147, "head": 145.6},

{"series": "S1879_245 (SBSS)", "seg": 1, "reading": "continuous", "year": 2007.438, "head": 266.0},
{"series": "S1879_245 (SBSS)", "seg": 1, "reading": "continuous", "year": 2007.532, "head": 272.7},
{"series": "S1879_245 (SBSS)", "seg": 1, "reading": "continuous", "year": 2007.616, "head": 275.3},
{"series": "S1879_245 (SBSS)", "seg": 1, "reading": "continuous", "year": 2007.617, "head": 300.7},
{"series": "S1879_245 (SBSS)", "seg": 1, "reading": "continuous", "year": 2007.619, "head": 275.5},
{"series": "S1879_245 (SBSS)", "seg": 1, "reading": "continuous", "year": 2007.669, "head": 276.6},
{"series": "S1879_245 (SBSS)", "seg": 1, "reading": "continuous", "year": 2007.694, "head": 276.8},
{"series": "S1879_245 (SBSS)", "seg": 1, "reading": "continuous", "year": 2007.695, "head": 202.5},
{"series": "S1879_245 (SBSS)", "seg": 1, "reading": "continuous", "year": 2007.697, "head": 276.8},
{"series": "S1879_245 (SBSS)", "seg": 1, "reading": "continuous", "year": 2007.815, "head": 277.6},
{"series": "S1879_245 (SBSS)", "seg": 1, "reading": "continuous", "year": 2007.925, "head": 277.6},
{"series": "S1879_245 (SBSS)", "seg": 1, "reading": "continuous", "year": 2007.927, "head": 258.3},
{"series": "S1879_245 (SBSS)", "seg": 2, "reading": "continuous", "year": 2008.042, "head": 275.6},
{"series": "S1879_245 (SBSS)", "seg": 2, "reading": "continuous", "year": 2008.158, "head": 273.7},
{"series": "S1879_245 (SBSS)", "seg": 3, "reading": "continuous", "year": 2008.646, "head": 261.8},
{"series": "S1879_245 (SBSS)", "seg": 3, "reading": "continuous", "year": 2008.764, "head": 258.3},
{"series": "S1879_245 (SBSS)", "seg": 4, "reading": "continuous", "year": 2008.814, "head": 256.3},
{"series": "S1879_245 (SBSS)", "seg": 4, "reading": "continuous", "year": 2009.175, "head": 246.4},
{"series": "S1879_245 (SBSS)", "seg": 5, "reading": "continuous", "year": 2009.255, "head": 244.4},
{"series": "S1879_245 (SBSS)", "seg": 5, "reading": "continuous", "year": 2009.421, "head": 240.0},
{"series": "S1879_245 (SBSS)", "seg": 5, "reading": "continuous", "year": 2009.684, "head": 232.3},
{"series": "S1879_245 (SBSS)", "seg": 5, "reading": "continuous", "year": 2010.010, "head": 219.8},
{"series": "S1879_245 (SBSS)", "seg": 5, "reading": "continuous", "year": 2010.339, "head": 204.4},
{"series": "S1879_245 (SBSS)", "seg": 5, "reading": "continuous", "year": 2010.470, "head": 197.6},
{"series": "S1879_245 (SBSS)", "seg": 6, "reading": "continuous", "year": 2010.584, "head": 191.9},
{"series": "S1879_245 (SBSS)", "seg": 6, "reading": "continuous", "year": 2010.842, "head": 181.3},
{"series": "S1879_245 (SBSS)", "seg": 6, "reading": "continuous", "year": 2010.973, "head": 173.6},
{"series": "S1879_245 (SBSS)", "seg": 7, "reading": "continuous", "year": 2011.088, "head": 168.8},
{"series": "S1879_245 (SBSS)", "seg": 7, "reading": "continuous", "year": 2011.390, "head": 162.0},
{"series": "S1879_245 (SBSS)", "seg": 7, "reading": "continuous", "year": 2011.473, "head": 159.2},
{"series": "S1879_245 (SBSS)", "seg": 7, "reading": "continuous", "year": 2011.673, "head": 153.4},
{"series": "S1879_245 (SBSS)", "seg": 7, "reading": "continuous", "year": 2012.016, "head": 144.7},
{"series": "S1879_245 (SBSS)", "seg": 8, "reading": "continuous", "year": 2012.458, "head": 141.8},
{"series": "S1879_245 (SBSS)", "seg": 8, "reading": "continuous", "year": 2012.745, "head": 139.9},
{"series": "S1879_245 (SBSS)", "seg": 9, "reading": "intermittent", "year": 2012.783, "head": 139.9},
{"series": "S1879_245 (SBSS)", "seg": 9, "reading": "intermittent", "year": 2013.088, "head": 139.3},
{"series": "S1879_245 (SBSS)", "seg": 10, "reading": "intermittent", "year": 2013.549, "head": 137.9},
{"series": "S1879_245 (SBSS)", "seg": 10, "reading": "intermittent", "year": 2014.040, "head": 138.9},
{"series": "S1879_245 (SBSS)", "seg": 11, "reading": "continuous", "year": 2014.046, "head": 140.2},
{"series": "S1879_245 (SBSS)", "seg": 11, "reading": "continuous", "year": 2014.544, "head": 140.5},
{"series": "S1879_245 (SBSS)", "seg": 12, "reading": "continuous", "year": 2015.099, "head": 141.3},
{"series": "S1879_245 (SBSS)", "seg": 12, "reading": "continuous", "year": 2015.367, "head": 141.3},
{"series": "S1879_245 (SBSS)", "seg": 13, "reading": "continuous", "year": 2015.446, "head": 141.6},
{"series": "S1879_245 (SBSS)", "seg": 13, "reading": "continuous", "year": 2016.500, "head": 141.8},
{"series": "S1879_245 (SBSS)", "seg": 13, "reading": "continuous", "year": 2017.147, "head": 141.5},

{"series": "S1879_263.3 (WBCS)", "seg": 1, "reading": "continuous", "year": 2007.438, "head": 252.5},
{"series": "S1879_263.3 (WBCS)", "seg": 1, "reading": "continuous", "year": 2007.472, "head": 247.5},
{"series": "S1879_263.3 (WBCS)", "seg": 1, "reading": "continuous", "year": 2007.498, "head": 244.8},
{"series": "S1879_263.3 (WBCS)", "seg": 1, "reading": "continuous", "year": 2007.560, "head": 243.0},
{"series": "S1879_263.3 (WBCS)", "seg": 1, "reading": "continuous", "year": 2007.815, "head": 241.4},
{"series": "S1879_263.3 (WBCS)", "seg": 1, "reading": "continuous", "year": 2007.940, "head": 241.0},
{"series": "S1879_263.3 (WBCS)", "seg": 2, "reading": "continuous", "year": 2008.042, "head": 241.0},
{"series": "S1879_263.3 (WBCS)", "seg": 2, "reading": "continuous", "year": 2008.158, "head": 241.0},
{"series": "S1879_263.3 (WBCS)", "seg": 3, "reading": "continuous", "year": 2008.646, "head": 239.4},
{"series": "S1879_263.3 (WBCS)", "seg": 3, "reading": "continuous", "year": 2008.764, "head": 238.5},
{"series": "S1879_263.3 (WBCS)", "seg": 4, "reading": "continuous", "year": 2008.814, "head": 237.5},
{"series": "S1879_263.3 (WBCS)", "seg": 4, "reading": "continuous", "year": 2009.175, "head": 234.3},
{"series": "S1879_263.3 (WBCS)", "seg": 5, "reading": "continuous", "year": 2009.255, "head": 234.3},
{"series": "S1879_263.3 (WBCS)", "seg": 5, "reading": "continuous", "year": 2009.421, "head": 231.4},
{"series": "S1879_263.3 (WBCS)", "seg": 5, "reading": "continuous", "year": 2009.684, "head": 223.6},
{"series": "S1879_263.3 (WBCS)", "seg": 5, "reading": "continuous", "year": 2010.010, "head": 209.2},
{"series": "S1879_263.3 (WBCS)", "seg": 5, "reading": "continuous", "year": 2010.339, "head": 192.8},
{"series": "S1879_263.3 (WBCS)", "seg": 5, "reading": "continuous", "year": 2010.470, "head": 186.1},
{"series": "S1879_263.3 (WBCS)", "seg": 6, "reading": "continuous", "year": 2010.584, "head": 180.3},
{"series": "S1879_263.3 (WBCS)", "seg": 6, "reading": "continuous", "year": 2010.842, "head": 170.7},
{"series": "S1879_263.3 (WBCS)", "seg": 6, "reading": "continuous", "year": 2010.973, "head": 160.1},
{"series": "S1879_263.3 (WBCS)", "seg": 7, "reading": "continuous", "year": 2011.088, "head": 155.3},
{"series": "S1879_263.3 (WBCS)", "seg": 7, "reading": "continuous", "year": 2011.390, "head": 148.2},
{"series": "S1879_263.3 (WBCS)", "seg": 7, "reading": "continuous", "year": 2011.473, "head": 145.6},
{"series": "S1879_263.3 (WBCS)", "seg": 7, "reading": "continuous", "year": 2011.673, "head": 139.9},
{"series": "S1879_263.3 (WBCS)", "seg": 7, "reading": "continuous", "year": 2012.016, "head": 130.8},
{"series": "S1879_263.3 (WBCS)", "seg": 8, "reading": "continuous", "year": 2012.458, "head": 124.0},
{"series": "S1879_263.3 (WBCS)", "seg": 8, "reading": "continuous", "year": 2012.531, "head": 121.6},
{"series": "S1879_263.3 (WBCS)", "seg": 9, "reading": "intermittent", "year": 2012.54, "head": 121.3},
{"series": "S1879_263.3 (WBCS)", "seg": 9, "reading": "intermittent", "year": 2012.745, "head": 120.8},
{"series": "S1879_263.3 (WBCS)", "seg": 10, "reading": "intermittent", "year": 2012.783, "head": 120.0},
{"series": "S1879_263.3 (WBCS)", "seg": 10, "reading": "intermittent", "year": 2013.070, "head": 119.6},

{"series": "S1879_292.4 (BUSM)", "seg": 1, "reading": "continuous", "year": 2007.438, "head": 240.0},
{"series": "S1879_292.4 (BUSM)", "seg": 1, "reading": "continuous", "year": 2007.550, "head": 238.3},
{"series": "S1879_292.4 (BUSM)", "seg": 1, "reading": "continuous", "year": 2007.815, "head": 236.2},
{"series": "S1879_292.4 (BUSM)", "seg": 1, "reading": "continuous", "year": 2007.940, "head": 236.0},
{"series": "S1879_292.4 (BUSM)", "seg": 2, "reading": "continuous", "year": 2008.646, "head": 233.7},
{"series": "S1879_292.4 (BUSM)", "seg": 2, "reading": "continuous", "year": 2008.764, "head": 232.9},
{"series": "S1879_292.4 (BUSM)", "seg": 3, "reading": "continuous", "year": 2008.814, "head": 232.3},
{"series": "S1879_292.4 (BUSM)", "seg": 3, "reading": "continuous", "year": 2009.175, "head": 229.4},
{"series": "S1879_292.4 (BUSM)", "seg": 4, "reading": "continuous", "year": 2009.255, "head": 229.4},
{"series": "S1879_292.4 (BUSM)", "seg": 4, "reading": "continuous", "year": 2009.421, "head": 226.5},
{"series": "S1879_292.4 (BUSM)", "seg": 4, "reading": "continuous", "year": 2009.684, "head": 218.8},
{"series": "S1879_292.4 (BUSM)", "seg": 4, "reading": "continuous", "year": 2010.010, "head": 204.4},
{"series": "S1879_292.4 (BUSM)", "seg": 4, "reading": "continuous", "year": 2010.339, "head": 188.0},
{"series": "S1879_292.4 (BUSM)", "seg": 4, "reading": "continuous", "year": 2010.470, "head": 181.3},
{"series": "S1879_292.4 (BUSM)", "seg": 5, "reading": "continuous", "year": 2010.584, "head": 175.3},
{"series": "S1879_292.4 (BUSM)", "seg": 5, "reading": "continuous", "year": 2010.842, "head": 165.9},
{"series": "S1879_292.4 (BUSM)", "seg": 5, "reading": "continuous", "year": 2010.973, "head": 155.3},
{"series": "S1879_292.4 (BUSM)", "seg": 6, "reading": "continuous", "year": 2011.088, "head": 151.4},
{"series": "S1879_292.4 (BUSM)", "seg": 6, "reading": "continuous", "year": 2011.390, "head": 144.7},
{"series": "S1879_292.4 (BUSM)", "seg": 6, "reading": "continuous", "year": 2011.473, "head": 142.7},
{"series": "S1879_292.4 (BUSM)", "seg": 6, "reading": "continuous", "year": 2011.673, "head": 137.4},
{"series": "S1879_292.4 (BUSM)", "seg": 6, "reading": "continuous", "year": 2012.016, "head": 127.4},
{"series": "S1879_292.4 (BUSM)", "seg": 7, "reading": "continuous", "year": 2012.458, "head": 119.6},
{"series": "S1879_292.4 (BUSM)", "seg": 7, "reading": "continuous", "year": 2012.745, "head": 116.8},
{"series": "S1879_292.4 (BUSM)", "seg": 8, "reading": "continuous", "year": 2012.783, "head": 114.9},
{"series": "S1879_292.4 (BUSM)", "seg": 8, "reading": "continuous", "year": 2013.088, "head": 112.0},
{"series": "S1879_292.4 (BUSM)", "seg": 9, "reading": "continuous", "year": 2013.549, "head": 108.5},
{"series": "S1879_292.4 (BUSM)", "seg": 9, "reading": "continuous", "year": 2014.000, "head": 105.5},
{"series": "S1879_292.4 (BUSM)", "seg": 9, "reading": "continuous", "year": 2014.544, "head": 102.3},
{"series": "S1879_292.4 (BUSM)", "seg": 10, "reading": "continuous", "year": 2015.099, "head": 100.4},
{"series": "S1879_292.4 (BUSM)", "seg": 10, "reading": "continuous", "year": 2015.367, "head": 100.2},
{"series": "S1879_292.4 (BUSM)", "seg": 11, "reading": "continuous", "year": 2015.424, "head": 100.0},
{"series": "S1879_292.4 (BUSM)", "seg": 11, "reading": "continuous", "year": 2016.200, "head": 98.3},
{"series": "S1879_292.4 (BUSM)", "seg": 11, "reading": "continuous", "year": 2017.147, "head": 97.0},

{"series": "S1879_319.4 (WWSM)", "seg": 1, "reading": "continuous", "year": 2007.438, "head": 243.0},
{"series": "S1879_319.4 (WWSM)", "seg": 1, "reading": "continuous", "year": 2007.815, "head": 242.0},
{"series": "S1879_319.4 (WWSM)", "seg": 1, "reading": "continuous", "year": 2007.929, "head": 241.0},
{"series": "S1879_319.4 (WWSM)", "seg": 1, "reading": "continuous", "year": 2007.931, "head": 223.6},
{"series": "S1879_319.4 (WWSM)", "seg": 2, "reading": "continuous", "year": 2008.042, "head": 236.2},
{"series": "S1879_319.4 (WWSM)", "seg": 2, "reading": "continuous", "year": 2008.158, "head": 234.3},
{"series": "S1879_319.4 (WWSM)", "seg": 3, "reading": "continuous", "year": 2008.646, "head": 230.0},
{"series": "S1879_319.4 (WWSM)", "seg": 3, "reading": "continuous", "year": 2008.764, "head": 228.5},
{"series": "S1879_319.4 (WWSM)", "seg": 4, "reading": "continuous", "year": 2008.814, "head": 228.1},
{"series": "S1879_319.4 (WWSM)", "seg": 4, "reading": "continuous", "year": 2008.985, "head": 226.0},
{"series": "S1879_319.4 (WWSM)", "seg": 4, "reading": "continuous", "year": 2008.987, "head": 241.9},
{"series": "S1879_319.4 (WWSM)", "seg": 4, "reading": "continuous", "year": 2008.989, "head": 225.8},
{"series": "S1879_319.4 (WWSM)", "seg": 4, "reading": "continuous", "year": 2009.175, "head": 223.3},
{"series": "S1879_319.4 (WWSM)", "seg": 5, "reading": "continuous", "year": 2009.272, "head": 221.7},
{"series": "S1879_319.4 (WWSM)", "seg": 5, "reading": "continuous", "year": 2009.402, "head": 216.0},
{"series": "S1879_319.4 (WWSM)", "seg": 5, "reading": "continuous", "year": 2009.404, "head": 233.3},
{"series": "S1879_319.4 (WWSM)", "seg": 5, "reading": "continuous", "year": 2009.406, "head": 215.8},
{"series": "S1879_319.4 (WWSM)", "seg": 5, "reading": "continuous", "year": 2009.519, "head": 206.3},
{"series": "S1879_319.4 (WWSM)", "seg": 5, "reading": "continuous", "year": 2009.684, "head": 192.0},
{"series": "S1879_319.4 (WWSM)", "seg": 5, "reading": "continuous", "year": 2009.847, "head": 177.5},
{"series": "S1879_319.4 (WWSM)", "seg": 5, "reading": "continuous", "year": 2009.975, "head": 170.0},
{"series": "S1879_319.4 (WWSM)", "seg": 5, "reading": "continuous", "year": 2010.104, "head": 164.0},
{"series": "S1879_319.4 (WWSM)", "seg": 5, "reading": "continuous", "year": 2010.301, "head": 154.3},
{"series": "S1879_319.4 (WWSM)", "seg": 5, "reading": "continuous", "year": 2010.473, "head": 146.6},
{"series": "S1879_319.4 (WWSM)", "seg": 6, "reading": "continuous", "year": 2010.584, "head": 143.7},
{"series": "S1879_319.4 (WWSM)", "seg": 6, "reading": "continuous", "year": 2010.831, "head": 131.2},
{"series": "S1879_319.4 (WWSM)", "seg": 6, "reading": "continuous", "year": 2010.959, "head": 126.4},
{"series": "S1879_319.4 (WWSM)", "seg": 6, "reading": "continuous", "year": 2011.226, "head": 116.0},
{"series": "S1879_319.4 (WWSM)", "seg": 6, "reading": "continuous", "year": 2011.500, "head": 105.5},
{"series": "S1879_319.4 (WWSM)", "seg": 6, "reading": "continuous", "year": 2011.759, "head": 96.5},
{"series": "S1879_319.4 (WWSM)", "seg": 6, "reading": "continuous", "year": 2012.016, "head": 92.7},
{"series": "S1879_319.4 (WWSM)", "seg": 7, "reading": "continuous", "year": 2012.458, "head": 82.7},
{"series": "S1879_319.4 (WWSM)", "seg": 7, "reading": "continuous", "year": 2012.745, "head": 83.5},
{"series": "S1879_319.4 (WWSM)", "seg": 8, "reading": "continuous", "year": 2012.783, "head": 83.0},
{"series": "S1879_319.4 (WWSM)", "seg": 8, "reading": "continuous", "year": 2013.088, "head": 81.7},
{"series": "S1879_319.4 (WWSM)", "seg": 9, "reading": "continuous", "year": 2013.549, "head": 81.2},
{"series": "S1879_319.4 (WWSM)", "seg": 9, "reading": "continuous", "year": 2013.900, "head": 80.5},
{"series": "S1879_319.4 (WWSM)", "seg": 9, "reading": "continuous", "year": 2014.020, "head": 80.3},
{"series": "S1879_319.4 (WWSM)", "seg": 9, "reading": "continuous", "year": 2014.027, "head": 82.7},
{"series": "S1879_319.4 (WWSM)", "seg": 9, "reading": "continuous", "year": 2014.235, "head": 82.5},
{"series": "S1879_319.4 (WWSM)", "seg": 9, "reading": "continuous", "year": 2014.237, "head": 71.5},
{"series": "S1879_319.4 (WWSM)", "seg": 9, "reading": "continuous", "year": 2014.239, "head": 82.5},
{"series": "S1879_319.4 (WWSM)", "seg": 9, "reading": "continuous", "year": 2014.544, "head": 82.1},
{"series": "S1879_319.4 (WWSM)", "seg": 10, "reading": "continuous", "year": 2015.099, "head": 80.8},
{"series": "S1879_319.4 (WWSM)", "seg": 10, "reading": "continuous", "year": 2015.367, "head": 78.3},
{"series": "S1879_319.4 (WWSM)", "seg": 11, "reading": "continuous", "year": 2015.424, "head": 78.3},
{"series": "S1879_319.4 (WWSM)", "seg": 11, "reading": "continuous", "year": 2015.767, "head": 77.8},
{"series": "S1879_319.4 (WWSM)", "seg": 11, "reading": "continuous", "year": 2015.769, "head": 67.3},
{"series": "S1879_319.4 (WWSM)", "seg": 11, "reading": "continuous", "year": 2015.771, "head": 77.8},
{"series": "S1879_319.4 (WWSM)", "seg": 11, "reading": "continuous", "year": 2016.500, "head": 77.5},
{"series": "S1879_319.4 (WWSM)", "seg": 11, "reading": "continuous", "year": 2017.000, "head": 77.5},
{"series": "S1879_319.4 (WWSM)", "seg": 11, "reading": "continuous", "year": 2017.147, "head": 79.5}
]
},
"layer": [
{
"data": {"name": "bands"},
"mark": {"type": "rect"},
"encoding": {
"y": {"field": "top", "type": "quantitative", "scale": {"domain": [47.9, 403.9], "nice": false, "zero": false},
"axis": {"orient": "left", "values": [50, 100, 150, 200, 250, 300, 350, 400], "tickSize": 7, "labelFontSize": 20, "labelPadding": 3, "title": "Piezometric head (m RL)", "titleFontSize": 25, "titlePadding": 24}},
"y2": {"field": "bottom"},
"fill": {"field": "band", "type": "nominal", "legend": null,
"scale": {"domain": ["Hawkesbury Sst", "Bald Hill CS", "Bulgo Sst", "L. Narrabeen Grp", "Illawarra CM"], "range": ["#e0fae0", "#fef5f3", "#e3e3fb", "#fde1fb", "#e6e6e6"]}}
}
},
{
"data": {"name": "panels"},
"mark": {"type": "rule", "color": "#8f8f8f", "strokeWidth": 1.5},
"encoding": {
"x": {"field": "start", "type": "quantitative", "title": null, "scale": {"domain": [2007.433, 2017.244], "nice": false, "zero": false},
"axis": {"values": [2008, 2009, 2010, 2011, 2012, 2013, 2014, 2015, 2016, 2017], "format": "d", "labelAngle": -30, "labelAlign": "right", "labelBaseline": "top", "labelFontSize": 20, "tickSize": 6, "labelPadding": 4, "title": null}}
}
},
{
"data": {"name": "marker"},
"mark": {"type": "rule", "color": "#8f8f8f", "strokeWidth": 1.5, "strokeDash": [15, 9]},
"encoding": {"x": {"field": "year", "type": "quantitative", "title": null}}
},
{
"data": {"name": "ground"},
"mark": {"type": "rule", "color": "#b22222", "strokeWidth": 3},
"encoding": {"y": {"field": "head", "type": "quantitative", "axis": null}}
},
{
"data": {"name": "seam"},
"mark": {"type": "rule", "strokeWidth": 5.5},
"encoding": {
"y": {"field": "head", "type": "quantitative", "axis": {"orient": "right", "labels": false, "ticks": true, "tickSize": 6, "domain": false, "values": [50, 100, 150, 200, 250, 300, 350, 400], "title": null}},
"color": {"field": "name", "type": "nominal",
"scale": {
"domain": ["S1879_10 (HBSS)", "S1879_236 (SBSS)", "Bulli Coal Seam", "S1879_29.2 (HBSS)", "S1879_245 (SBSS)", "Hawkesbury Sst", "S1879_48.3 (HBSS)", "S1879_263.3 (WBCS)", "Bald Hill CS", "S1879_97.4 (BGSS)", "S1879_292.4 (BUSM)", "Bulgo Sst", "S1879_153.7 (BGSS)", "S1879_319.4 (WWSM)", "L. Narrabeen Grp", "S1879_210 (BGSS)", "Lake Cordeaux_Dam", "Illawarra CM", "S1879_227 (SBSS)"],
"range": ["#91d68e", "#e7298a", "#999999", "#41ab5d", "#980043", "#e3f5e3", "#006d2c", "#8c4f2c", "#edd5d5", "#9ecae1", "#b8b8b8", "#dfdff8", "#4292c6", "#636363", "#f1e0f1", "#08519c", "#1a1aff", "#e3e3e3", "#d893c8"]},
"legend": {"orient": "none", "direction": "horizontal", "legendX": 5.5, "legendY": 483, "columns": 3, "title": null, "symbolType": "M-2,0H2", "symbolSize": 185, "symbolOffset": 6.8, "symbolStrokeWidth": 3, "labelFontSize": 12.2, "labelColor": "#333333", "labelFont": "Liberation Sans", "labelOffset": 16.5, "labelLimit": 300, "columnPadding": 20, "rowPadding": 4.8, "padding": 4, "strokeColor": "#b3b3b3", "fillColor": "#ffffff",
"encode": {
"legend": {"update": {"strokeWidth": {"value": 3}}},
"symbols": {"update": {
"shape": {"signal": "datum.value === 'Bulli Coal Seam' ? 'M-2.2,-0.44H2.2V0.44H-2.2Z' : indexof(['Hawkesbury Sst','Bald Hill CS','Bulgo Sst','L. Narrabeen Grp','Illawarra CM'], datum.value) >= 0 ? 'M-1.84,-0.59H1.84V0.59H-1.84Z' : 'M-2,0H2'"},
"fill": {"signal": "(datum.value === 'Bulli Coal Seam' || indexof(['Hawkesbury Sst','Bald Hill CS','Bulgo Sst','L. Narrabeen Grp','Illawarra CM'], datum.value) >= 0) ? scale('color', datum.value) : 'transparent'"},
"fillOpacity": {"value": 1},
"opacity": {"value": 1},
"strokeWidth": {"signal": "datum.value === 'Bulli Coal Seam' ? 0 : datum.value === 'Lake Cordeaux_Dam' ? 1.5 : indexof(['Hawkesbury Sst','Bald Hill CS','Bulgo Sst','L. Narrabeen Grp','Illawarra CM'], datum.value) >= 0 ? 0 : 3"},
"strokeJoin": {"value": "bevel"},
"strokeDash": {"signal": "datum.value === 'Lake Cordeaux_Dam' ? [0, 4, 19, 30] : [1, 0]"}
}}
}}
}
}
},
{
"data": {"name": "lake"},
"mark": {"type": "line", "strokeWidth": 1.6, "strokeDash": [18, 18]},
"encoding": {
"x": {"field": "year", "type": "quantitative", "title": null},
"y": {"field": "head", "type": "quantitative", "axis": null},
"color": {"datum": "Lake Cordeaux_Dam", "type": "nominal"}
}
},
{
"data": {"name": "piezo"},
"transform": [{"filter": "datum.reading === 'continuous'"}],
"mark": {"type": "line", "strokeWidth": 3, "strokeJoin": "round"},
"encoding": {
"x": {"field": "year", "type": "quantitative", "title": null},
"y": {"field": "head", "type": "quantitative", "axis": null},
"color": {"field": "series", "type": "nominal"},
"detail": {"field": "seg", "type": "nominal"}
}
},
{
"data": {"name": "piezo"},
"transform": [{"filter": "datum.reading === 'intermittent'"}],
"mark": {"type": "line", "strokeWidth": 3, "strokeDash": [2.5, 6]},
"encoding": {
"x": {"field": "year", "type": "quantitative", "title": null},
"y": {"field": "head", "type": "quantitative", "axis": null},
"color": {"field": "series", "type": "nominal"},
"detail": {"field": "seg", "type": "nominal"}
}
},
{
"data": {"name": "panels"},
"mark": {"type": "text", "align": "left", "baseline": "alphabetic", "dx": 12, "fontSize": 21, "color": "#858585", "font": "Liberation Sans"},
"encoding": {
"x": {"field": "start", "type": "quantitative", "title": null},
"y": {"datum": 388.3, "type": "quantitative", "axis": null},
"text": {"field": "panel"}
}
},
{
"data": {"name": "ground"},
"mark": {"type": "text", "align": "left", "baseline": "alphabetic", "dy": -3, "fontSize": 15, "fontStyle": "italic", "color": "#b22222", "font": "Liberation Sans"},
"encoding": {
"x": {"datum": 2007.51, "type": "quantitative"},
"y": {"field": "head", "type": "quantitative", "axis": null},
"text": {"field": "label"}
}
}
],
"resolve": {"axis": {"y": "independent"}},
"config": {
"font": "Liberation Sans",
"view": {"stroke": "#9a9a9a", "strokeWidth": 1.5},
"axis": {"grid": false, "domain": false, "tickColor": "#9a9a9a", "tickWidth": 1.2, "labelColor": "#333333", "labelFont": "Liberation Sans", "titleFont": "Liberation Sans", "titleColor": "#333333", "titleFontWeight": "normal"}
}
}
